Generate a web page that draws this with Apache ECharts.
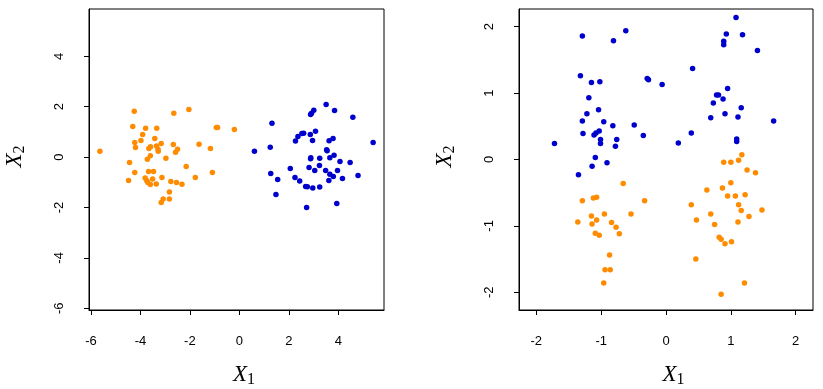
<!DOCTYPE html>
<html>
<head>
<meta charset="utf-8">
<script src="https://cdn.jsdelivr.net/npm/echarts@6/dist/echarts.min.js"></script>
<style>
  html, body { margin: 0; padding: 0; background: #fff; }
  #chart { width: 823px; height: 389px; }
</style>
</head>
<body>
<div id="chart"></div>
<script>
// ---- Data ----
const leftTicks = [-6, -4, -2, 0, 2, 4];
const rightTicks = [-2, -1, 0, 1, 2];

const leftOrange = [
  [-5.64,0.23],[-4.25,1.82],[-4.31,1.22],[-3.79,1.15],[-3.34,1.15],[-2.65,1.74],[-2.04,1.89],
  [-0.93,1.18],[-0.88,1.18],[-0.20,1.10],[-3.91,0.90],[-3.98,0.66],[-4.23,0.58],[-4.20,0.38],
  [-3.42,0.74],[-3.16,0.54],[-3.59,0.41],[-3.66,0.34],[-3.35,0.44],[-3.29,0.31],[-3.28,0.23],
  [-2.67,0.50],[-2.50,0.31],[-2.58,0.19],[-1.63,0.51],[-1.17,0.34],[-3.60,0.05],[-3.72,-0.09],
  [-2.97,-0.05],[-4.44,-0.21],[-2.15,-0.37],[-4.23,-0.61],[-3.67,-0.57],[-3.47,-0.57],[-1.09,-0.61],
  [-4.48,-0.93],[-3.81,-0.83],[-3.75,-0.93],[-3.70,-1.01],[-3.60,-1.09],[-3.51,-0.87],[-3.36,-1.07],
  [-3.13,-0.81],[-2.77,-0.97],[-2.54,-1.01],[-2.32,-1.08],[-1.78,-0.81],[-2.83,-1.39],[-3.08,-1.66],
  [-2.83,-1.66],[-3.16,-1.80]
];
const leftBlue = [
  [3.51,2.09],[3.01,1.86],[2.92,1.74],[2.88,1.69],[3.85,1.85],[4.59,1.58],[1.32,1.34],
  [2.27,0.64],[2.37,0.82],[2.53,0.94],[2.60,0.95],[2.87,0.90],[3.08,1.03],[2.96,0.66],[3.63,0.65],
  [3.79,0.74],[5.41,0.58],[0.61,0.23],[1.25,0.39],[3.53,0.29],[3.55,0.25],
  [2.89,-0.03],[2.88,-0.07],[3.25,-0.05],[3.66,-0.03],[3.83,0.07],[4.07,-0.17],[4.48,-0.21],
  [3.24,-0.33],[2.82,-0.41],[2.06,-0.45],[3.05,-0.53],[3.49,-0.53],[3.66,-0.68],[3.80,-0.77],
  [3.97,-0.53],[3.62,-0.93],[4.17,-0.85],[4.80,-0.73],[1.27,-0.65],[1.55,-0.89],[2.25,-0.81],
  [2.44,-0.95],[2.68,-1.17],[2.75,-1.18],[2.97,-1.23],[3.25,-1.19],[1.48,-1.48],[2.72,-2.00],
  [3.94,-1.84]
];
const rightBlue = [
  [-1.29,1.86],[-0.62,1.94],[-0.81,1.79],[1.08,2.14],[0.93,1.89],[1.18,1.88],[0.89,1.78],
  [0.89,1.73],[1.41,1.64],[0.41,1.37],[-1.32,1.26],[-1.15,1.16],[-1.02,1.17],[-0.29,1.22],
  [-0.27,1.20],[-0.06,1.13],[-1.19,0.93],[-1.04,0.75],[-1.22,0.69],[-1.29,0.58],[-0.96,0.57],
  [-0.82,0.51],[-0.49,0.52],[-1.28,0.39],[-1.11,0.37],[-1.08,0.40],[-1.03,0.43],[-1.01,0.30],
  [-1.01,0.24],[-0.76,0.30],[-0.78,0.20],[-0.35,0.36],[-1.72,0.24],[-1.09,0.03],[-1.14,-0.10],
  [-0.91,-0.05],[-1.35,-0.23],[0.19,0.25],[0.39,0.40],[0.78,0.97],[0.81,0.97],[0.95,1.07],
  [0.88,0.91],[0.73,0.85],[0.69,0.63],[0.91,0.69],[1.16,0.78],[1.11,0.64],[1.66,0.58],
  [1.09,0.31],[1.09,0.27]
];
const rightOrange = [
  [-1.29,-0.62],[-1.12,-0.58],[-1.07,-0.57],[-0.66,-0.36],[-0.33,-0.62],[-0.54,-0.82],[-0.95,-0.82],
  [-1.15,-0.85],[-1.36,-0.94],[-1.14,-0.97],[-1.07,-0.91],[-0.84,-0.95],[-0.77,-1.02],[-0.72,-1.12],
  [-1.09,-1.11],[-1.03,-1.14],[-0.87,-1.44],[-0.94,-1.66],[-0.86,-1.66],[-0.96,-1.86],
  [1.17,0.07],[0.89,-0.04],[1.00,-0.04],[1.12,-0.01],[1.25,-0.16],[1.38,-0.20],[1.00,-0.35],
  [0.63,-0.46],[0.87,-0.43],[0.95,-0.55],[1.07,-0.55],[1.22,-0.53],[1.12,-0.68],[1.16,-0.77],
  [1.48,-0.76],[0.39,-0.68],[0.69,-0.82],[1.28,-0.86],[0.47,-0.91],[1.11,-0.94],[0.75,-0.98],
  [0.82,-1.17],[0.85,-1.20],[0.91,-1.27],[1.01,-1.24],[0.46,-1.50],[1.21,-1.86],[0.85,-2.03]
];

// ---- Styling ----
const ORANGE = '#FF8C00';
const BLUE = '#0000CD';
const tickFont = { color: '#000', fontSize: 13, fontFamily: 'Liberation Sans, Arial, sans-serif' };
const richName = {
  x: { fontFamily: 'Liberation Serif', fontStyle: 'italic', fontSize: 23, lineHeight: 26, color: '#000' },
  s: { fontFamily: 'Liberation Serif', fontSize: 16, lineHeight: 16, verticalAlign: 'bottom', color: '#000' }
};

function xAxisCfg(gi, min, max, ticks) {
  return {
    gridIndex: gi, type: 'value', min: min, max: max, position: 'bottom',
    axisLine: { show: true, onZero: false, lineStyle: { color: '#000', width: 1 } }, splitLine: { show: false },
    axisTick: { show: true, inside: false, length: 5, lineStyle: { color: '#000', width: 1 }, customValues: ticks },
    axisLabel: Object.assign({ customValues: ticks, margin: 25 }, tickFont),
    name: '{x|X}{s|1}', nameLocation: 'middle', nameGap: 52,
    nameTextStyle: { rich: richName, padding: [0, 0, 0, 15] }
  };
}
function yAxisCfg(gi, min, max, ticks) {
  return {
    gridIndex: gi, type: 'value', min: min, max: max, position: 'left',
    axisLine: { show: true, onZero: false, lineStyle: { color: '#000', width: 1 } }, splitLine: { show: false },
    axisTick: { show: true, inside: false, length: 5, lineStyle: { color: '#000', width: 1 }, customValues: ticks },
    axisLabel: Object.assign({ customValues: ticks, margin: 23, rotate: 90 }, tickFont),
    name: '{x|X}{s|2}', nameLocation: 'middle', nameGap: 61, nameRotate: 90,
    nameTextStyle: { rich: richName, padding: [0, 0, 0, 6] }
  };
}
function scatter(gi, data, color) {
  return {
    type: 'scatter', xAxisIndex: gi, yAxisIndex: gi, data: data,
    symbol: 'circle', symbolSize: 5.5, itemStyle: { color: color, opacity: 1 },
    silent: true, animation: false
  };
}

const chart = echarts.init(document.getElementById('chart'), null, { renderer: 'canvas' });
chart.setOption({
  backgroundColor: '#fff',
  animation: false,
  grid: [
    { left: 89, top: 9, width: 295, height: 301, show: true, borderColor: '#000', borderWidth: 1, backgroundColor: 'transparent', containLabel: false, outerBoundsMode: 'none' },
    { left: 519, top: 9, width: 294, height: 301, show: true, borderColor: '#000', borderWidth: 1, backgroundColor: 'transparent', containLabel: false, outerBoundsMode: 'none' }
  ],
  xAxis: [ xAxisCfg(0, -6.08, 5.85, leftTicks), xAxisCfg(1, -2.267, 2.267, rightTicks) ],
  yAxis: [ yAxisCfg(0, -6.07, 5.88, leftTicks), yAxisCfg(1, -2.267, 2.267, rightTicks) ],
  series: [
    scatter(0, leftOrange, ORANGE),
    scatter(0, leftBlue, BLUE),
    scatter(1, rightBlue, BLUE),
    scatter(1, rightOrange, ORANGE)
  ]
});
</script>
</body>
</html>
